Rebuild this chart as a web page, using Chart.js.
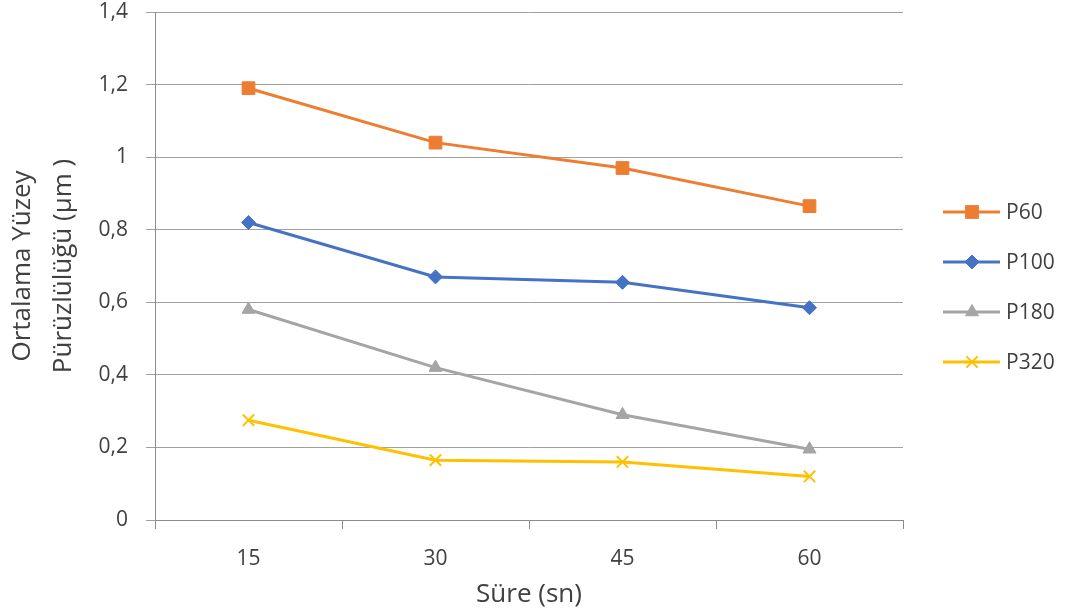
<!DOCTYPE html>
<html>
<head>
<meta charset="utf-8">
<script src="https://cdn.jsdelivr.net/npm/chart.js@4.4.1/dist/chart.umd.min.js"></script>
<style>
  html, body { margin: 0; padding: 0; background: #ffffff; }
  #wrap { width: 1072px; height: 612px; position: relative; }
</style>
</head>
<body>
<div id="wrap"><canvas id="c" width="1072" height="612"></canvas></div>
<script>
// Süre (sn) kategorileri
const categories = ['15', '30', '45', '60'];

// Ortalama yüzey pürüzlülüğü (µm), zımpara numarasına göre
const p60  = [1.19, 1.04, 0.97, 0.865];
const p100 = [0.82, 0.67, 0.655, 0.585];
const p180 = [0.58, 0.42, 0.29, 0.195];
const p320 = [0.275, 0.165, 0.16, 0.12];

const seriesNames = ['P60', 'P100', 'P180', 'P320'];

const yTitle = ['Ortalama Yüzey', 'Pürüzlülüğü (µm )'];
const xTitle = 'Süre (sn)';

const FONT = "'Open Sans', 'DejaVu Sans', sans-serif";
const TEXT = '#404040';

const styles = [
  { color: '#ED7D31', pointStyle: 'rect',     radius: 9,   borderWidth: 1 },
  { color: '#4472C4', pointStyle: 'rectRot',  radius: 7,   borderWidth: 1 },
  { color: '#A5A5A5', pointStyle: 'triangle', radius: 7.5, borderWidth: 1 },
  { color: '#FFC000', pointStyle: 'crossRot', radius: 8,   borderWidth: 2 }
];

const seriesData = [p60, p100, p180, p320];

const datasets = seriesData.map((vals, i) => ({
  label: seriesNames[i],
  data: vals,
  borderColor: styles[i].color,
  backgroundColor: styles[i].color,
  borderWidth: 3,
  tension: 0,
  pointStyle: styles[i].pointStyle,
  pointRadius: styles[i].radius,
  pointHoverRadius: styles[i].radius,
  pointBorderWidth: styles[i].borderWidth,
  pointBackgroundColor: styles[i].color,
  pointBorderColor: styles[i].color
}));

// Legend on the right: short line with the series marker, then the name
const sideLegend = {
  id: 'sideLegend',
  afterDraw(chart) {
    const ctx = chart.ctx;
    const x0 = 943, x1 = 1000, xm = 972, xt = 1006;
    ctx.save();
    seriesNames.forEach((name, i) => {
      const y = 212 + i * 50;
      const st = styles[i];
      ctx.strokeStyle = st.color;
      ctx.lineWidth = 3;
      ctx.beginPath();
      ctx.moveTo(x0, y);
      ctx.lineTo(x1, y);
      ctx.stroke();
      ctx.fillStyle = st.color;
      ctx.strokeStyle = st.color;
      ctx.lineWidth = st.borderWidth;
      Chart.helpers.drawPoint(ctx, {
        pointStyle: st.pointStyle,
        radius: st.radius,
        rotation: 0,
        borderWidth: st.borderWidth
      }, xm, y);
      ctx.fillStyle = TEXT;
      ctx.font = '21px ' + FONT;
      ctx.textAlign = 'left';
      ctx.textBaseline = 'middle';
      ctx.fillText(name, xt, y + 1);
    });
    ctx.restore();
  }
};

new Chart(document.getElementById('c'), {
  type: 'line',
  data: { labels: categories, datasets },
  plugins: [sideLegend],
  options: {
    responsive: false,
    animation: false,
    layout: { padding: { left: 0, right: 169, top: 12, bottom: 0 } },
    plugins: {
      legend: { display: false },
      tooltip: { enabled: false }
    },
    scales: {
      x: {
        type: 'category',
        offset: true,
        grid: {
          offset: true,
          drawOnChartArea: false,
          drawTicks: true,
          tickLength: 9,
          color: '#8c8c8c',
          lineWidth: 1
        },
        border: { display: true, color: '#8c8c8c', width: 1 },
        ticks: {
          color: TEXT,
          padding: 20,
          font: { family: FONT, size: 21, lineHeight: 1 }
        },
        title: {
          display: true,
          text: xTitle,
          color: TEXT,
          font: { family: FONT, size: 26, lineHeight: 1.2 },
          padding: { top: 0, bottom: 2 }
        },
        afterFit(scale) { scale.height = 92; }
      },
      y: {
        min: 0,
        max: 1.4,
        ticks: {
          stepSize: 0.2,
          color: TEXT,
          padding: 18,
          font: { family: FONT, size: 21, lineHeight: 1 },
          callback: (v) => String(Math.round(v * 10) / 10).replace('.', ',')
        },
        grid: {
          color: '#a0a0a0',
          lineWidth: 1,
          drawTicks: true,
          tickLength: 9
        },
        border: { display: true, color: '#8c8c8c', width: 1 },
        title: {
          display: true,
          text: yTitle,
          color: TEXT,
          font: { family: FONT, size: 26, lineHeight: 1.58 },
          padding: { top: 2, bottom: 0 }
        },
        afterFit(scale) {
          scale.width = 155;
          scale.paddingTop = 0;
          scale.paddingBottom = 0;
        }
      }
    }
  }
});
</script>
</body>
</html>
